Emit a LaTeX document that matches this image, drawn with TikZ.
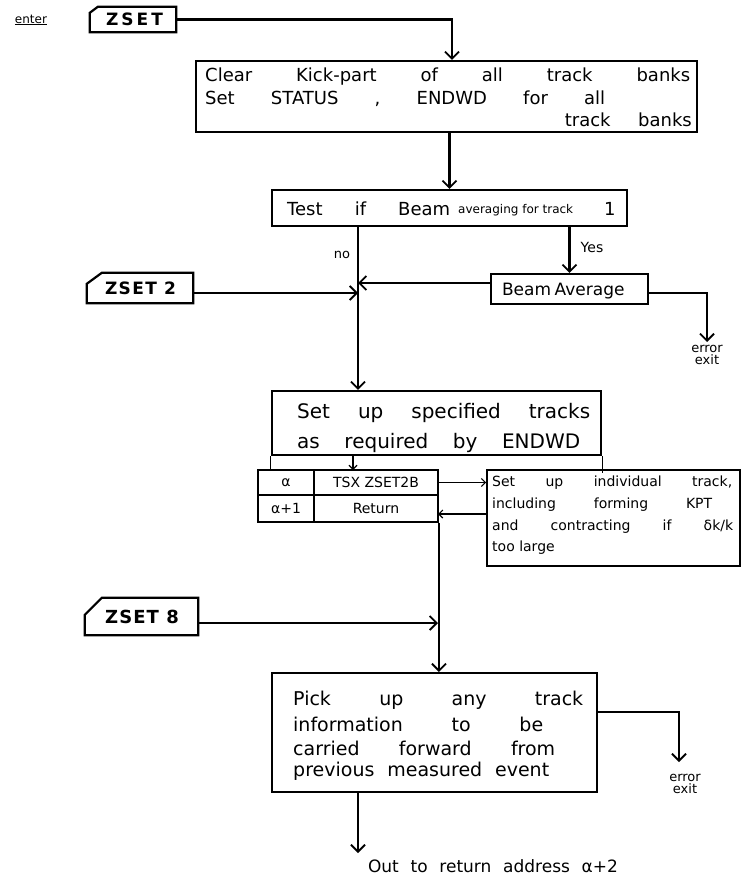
\documentclass[tikz,border=0pt]{standalone}
\usepackage{fontspec}
\setmainfont{DejaVu Sans}
\usetikzlibrary{arrows.meta,calc}
\newcommand{\fs}[1]{\fontsize{#1}{#1}\selectfont}
\begin{document}
\begin{tikzpicture}[x=1pt,y=-1pt,
  box/.style={draw,line width=2.2pt,inner sep=0pt},
  cell/.style={draw,line width=1.8pt,inner sep=0pt,font=\fs{14}},
  tagnode/.style={inner sep=0pt},
  flow/.style={line width=2.2pt,-{Straight Barb[length=7pt,width=14pt,line width=1.8pt]}},
  thinflow/.style={line width=1.1pt,-{Straight Barb[length=4pt,width=8pt,line width=1.1pt]}},
  edge/.style={line width=0.9pt},
  txt/.style={inner sep=0pt,anchor=west},
  lbl/.style={inner sep=0pt,font=\fontsize{13}{12}\selectfont,align=center}
]
\useasboundingbox (0,0) rectangle (742,878);

% entry tags (chamfered top-left corner)
\newcommand{\tagoutline}[3]{%
  \draw[line width=2.2pt] (#1.south west) -- ($(#1.north west)+(0,#3)$)
    -- ($(#1.north west)+(#2,0)$) -- (#1.north east) -- (#1.south east) -- cycle;}

\node[inner sep=0pt,font=\fs{12}] (enter) at (31,20) {\underline{enter}};
\node[tagnode,minimum width=86pt,minimum height=25pt] (zset) at (133,19.5)
  {\fs{17}\bfseries\addfontfeature{LetterSpace=18}ZSET\kern-3pt};
\tagoutline{zset}{8}{6}
\node[tagnode,minimum width=106pt,minimum height=30pt] (zset2) at (140,288)
  {\fs{17}\bfseries\addfontfeature{LetterSpace=8}ZSET 2\kern-1pt};
\tagoutline{zset2}{15}{11}
\node[tagnode,minimum width=113pt,minimum height=37pt] (zset8) at (141.5,616.5)
  {\fs{18}\bfseries\addfontfeature{LetterSpace=6}ZSET 8\kern-1pt};
\tagoutline{zset8}{17}{17}

% process boxes
\node[box,minimum width=501pt,minimum height=71pt] (clear) at (446.5,96.5) {};
\node[txt,font=\fs{18}] (cl1) at (205,77) {\makebox[485pt][s]{Clear Kick-part of all track banks}};
\node[txt,font=\fs{18}] (cl2) at (205,99) {\makebox[400pt][s]{Set STATUS , ENDWD for all}};
\node[inner sep=0pt,anchor=east,font=\fs{18}] (cl3) at (692,120) {\makebox[127pt][s]{track banks}};

\node[box,minimum width=355pt,minimum height=36pt] (test) at (449.5,208) {};
\node[txt,font=\fs{18}] (t1) at (287,209) {\makebox[163pt][s]{Test if Beam}};
\node[txt,font=\fs{12}] (t2) at (458,210) {averaging for track};
\node[txt,font=\fs{18}] (t3) at (604,209) {1};
\node[lbl] (no) at (342,255) {no};
\node[lbl,font=\fs{14}] (yes) at (592,247) {Yes};

\node[box,minimum width=157pt,minimum height=30pt] (beam) at (569.5,289) {};
\node[inner sep=0pt,font=\fs{17}] (beamt) at (563,291) {\makebox[122pt][s]{Beam Average}};
\node[lbl] (err1) at (707,355) {error\\exit};

\node[box,minimum width=329pt,minimum height=64pt] (setup) at (436.5,423) {};
\node[txt,font=\fs{20}] (s1) at (297,413) {\makebox[293pt][s]{Set up specified tracks}};
\node[txt,font=\fs{20}] (s2) at (297,443) {\makebox[283pt][s]{as required by ENDWD}};
\draw[edge] (setup.south west) -- ++(0,15);
\draw[edge] (setup.south east) -- ++(0,17);

% subroutine call table
\node[cell,minimum width=56pt,minimum height=25pt] (a1) at (286,482.5) {α};
\node[cell,minimum width=124pt,minimum height=25pt] (b1) at (376,482.5) {TSX ZSET2B};
\node[cell,minimum width=56pt,minimum height=27pt] (a2) at (286,508.5) {α+1};
\node[cell,minimum width=124pt,minimum height=27pt] (b2) at (376,508.5) {Return};

\node[draw,line width=1.8pt,inner sep=0pt,minimum width=253pt,minimum height=96pt] (indiv) at (613.5,518) {};
\node[txt,font=\fs{14}] (i1) at (492,483) {\makebox[240pt][s]{Set up individual track,}};
\node[txt,font=\fs{14}] (i2) at (492,505) {\makebox[220pt][s]{including forming KPT}};
\node[txt,font=\fs{14}] (i3) at (492,527) {\makebox[241pt][s]{and contracting if δk/k}};
\node[txt,font=\fs{14}] (i4) at (492,548) {too large};

\node[box,minimum width=325pt,minimum height=119pt] (pick) at (434.5,732.5) {};
\node[txt,font=\fs{19}] (p1) at (293,700) {\makebox[290pt][s]{Pick up any track}};
\node[txt,font=\fs{19}] (p2) at (293,724) {\makebox[250pt][s]{information to be}};
\node[txt,font=\fs{19}] (p3) at (293,748) {\makebox[262pt][s]{carried forward from}};
\node[txt,font=\fs{19}] (p4) at (293,771) {\makebox[256pt][s]{previous measured event}};
\node[lbl] (err2) at (685,784) {error\\exit};
\node[inner sep=0pt,font=\fs{17}] (out) at (493,866) {\makebox[250pt][s]{Out to return address α+2}};

% junctions and turning points
\coordinate (jA) at (358,283);
\coordinate (jB) at (358,293);
\coordinate (jC) at (438,623);
\coordinate (tin) at (353,470);
\coordinate (ret) at (438,514);
\coordinate (e1turn) at (707,293);
\coordinate (e1) at (707,342);
\coordinate (e2turn) at (679,712);
\coordinate (e2) at (679,762);
\coordinate (exit) at (358,853);

% connectors
\draw[flow] (zset.east) -| ([xshift=5.5pt]clear.north);
\draw[flow] (clear.south -| test.north) -- (test.north);
\draw[flow] (test.south -| jA) -- (setup.north -| jA);
\draw[flow] (test.south -| beam.north) -- (beam.north);
\draw[flow] (beam.west |- jA) -- (jA);
\draw[flow] (zset2.east |- jB) -- (jB);
\draw[flow] (beam.east |- e1turn) -- (e1turn) -- (e1);
\draw[thinflow] (setup.south -| tin) -- (tin);
\draw[thinflow] (b1.east) -- (b1.east -| indiv.west);
\draw[thinflow] (indiv.west |- ret) -- (ret);
\draw[flow] (b2.south east) -- (pick.north -| b2.south east);
\draw[flow] (zset8.east |- jC) -- (jC);
\draw[flow] (pick.east |- e2turn) -- (e2turn) -- (e2);
\draw[flow] (pick.south -| exit) -- (exit);
\end{tikzpicture}
\end{document}
